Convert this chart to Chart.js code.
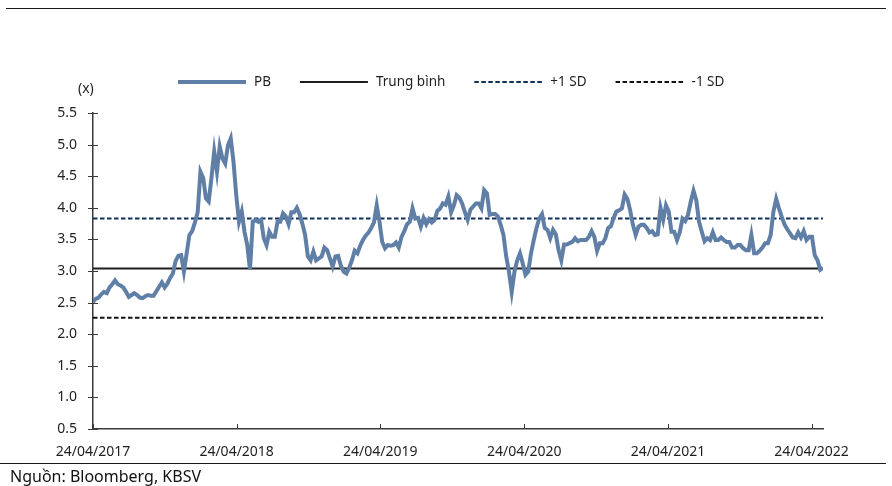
<!DOCTYPE html>
<html>
<head>
<meta charset="utf-8">
<script src="https://cdn.jsdelivr.net/npm/chart.js@4.4.0/dist/chart.umd.min.js"></script>
<style>
  html, body { margin: 0; padding: 0; background: #fff; }
  body { width: 892px; height: 486px; position: relative; overflow: hidden; font-family: "Noto Sans", sans-serif; }
  #wrap { position: absolute; left: 0; top: 0; width: 892px; height: 486px; }
  .rule { position: absolute; height: 0; border-top: 1.5px solid #1a1a1a; }
  #src { position: absolute; left: 10px; top: 467px; font-size: 16px; line-height: 19px; color: #111; }
</style>
</head>
<body>
<div id="wrap"><canvas id="pbChart" width="892" height="486"></canvas></div>
<div class="rule" style="left:6px;width:880px;top:8px"></div>
<div class="rule" style="left:0;width:886px;top:463px"></div>
<div id="src">Nguồn: Bloomberg, KBSV</div>

<script>
// P/B weekly from 24/04/2017
const pbStep = 7; // days between points
const pbValues = [
  2.51, 2.56, 2.58, 2.63, 2.67, 2.65, 2.74, 2.79, 2.85, 2.79,
  2.77, 2.74, 2.67, 2.59, 2.62, 2.65, 2.62, 2.58, 2.57, 2.60,
  2.62, 2.61, 2.61, 2.68, 2.75, 2.82, 2.74, 2.80, 2.89, 2.96,
  3.16, 3.24, 3.25, 2.99, 3.28, 3.57, 3.63, 3.77, 3.93, 4.57,
  4.47, 4.15, 4.10, 4.47, 4.89, 4.57, 4.97, 4.78, 4.70, 4.99,
  5.10, 4.73, 4.20, 3.78, 3.94, 3.62, 3.41, 3.02, 3.78, 3.81,
  3.78, 3.81, 3.52, 3.41, 3.62, 3.54,
  3.54, 3.78, 3.78, 3.91, 3.86, 3.74, 3.93, 3.93, 4.00, 3.90,
  3.75, 3.57, 3.23, 3.17, 3.31, 3.17, 3.20, 3.23, 3.37, 3.33,
  3.20, 3.07, 3.23, 3.24, 3.08, 2.99, 2.96, 3.05, 3.17, 3.32,
  3.28, 3.40, 3.49, 3.56, 3.61, 3.68, 3.77, 4.04, 3.78, 3.46,
  3.36, 3.41, 3.40, 3.41, 3.45, 3.37, 3.54, 3.63, 3.74, 3.78,
  3.99, 3.83, 3.84, 3.70, 3.84, 3.74, 3.82, 3.77, 3.81, 3.95,
  3.99, 4.07, 4.05, 4.18, 3.93, 4.04, 4.20,
  4.16, 4.07, 3.93, 3.81, 3.97, 4.02, 4.07, 4.07, 3.99, 4.28,
  4.23, 3.89, 3.90, 3.90, 3.86, 3.73, 3.57, 3.23, 2.99, 2.67,
  2.99, 3.17, 3.28, 3.12, 2.94, 2.99, 3.28, 3.49, 3.68, 3.83,
  3.90, 3.68, 3.65, 3.52, 3.65, 3.58, 3.33, 3.17, 3.42, 3.42,
  3.44, 3.46, 3.52, 3.47, 3.49, 3.49, 3.49, 3.54, 3.63, 3.54,
  3.32, 3.44, 3.44, 3.52, 3.68, 3.71, 3.84, 3.94, 3.96, 3.99,
  4.21, 4.14, 3.96, 3.73, 3.57, 3.70, 3.73,
  3.73, 3.68, 3.61, 3.63, 3.57, 3.58, 4.00, 3.81, 4.04, 3.94,
  3.62, 3.62, 3.49, 3.61, 3.83, 3.79, 3.89, 4.10, 4.27, 4.12,
  3.78, 3.62, 3.47, 3.52, 3.49, 3.61, 3.49, 3.49, 3.53, 3.49,
  3.46, 3.46, 3.37, 3.37, 3.41, 3.41, 3.36, 3.33, 3.33, 3.57,
  3.28, 3.28, 3.32, 3.37, 3.44, 3.44, 3.57, 3.94, 4.14, 3.99,
  3.86, 3.74, 3.66, 3.60, 3.53, 3.52, 3.61, 3.53, 3.63, 3.49,
  3.54, 3.54, 3.25, 3.17, 3.02, 3.05
];
const pbMean = 3.04;
const pbPlusSD = 3.83;
const pbMinusSD = 2.26;

// day offsets of the 24/04 ticks and their labels
const xTickDays = [0, 365, 730, 1096, 1461, 1826];
const xTickLabels = ['24/04/2017', '24/04/2018', '24/04/2019', '24/04/2020', '24/04/2021', '24/04/2022'];
const yTicks = [0.5, 1.0, 1.5, 2.0, 2.5, 3.0, 3.5, 4.0, 4.5, 5.0, 5.5];

const FONT = '"Noto Sans", sans-serif';
const TEXT = '#1f1f1f';
const AXIS = '#3a3a3a';

const lastDay = (pbValues.length - 1) * pbStep;
const flat = v => [{ x: 0, y: v }, { x: lastDay, y: v }];

// inward/cross tick marks, legend and unit label
const decor = {
  id: 'decor',
  afterDraw(chart) {
    const { ctx, chartArea: a, scales: { x, y } } = chart;
    ctx.save();
    ctx.strokeStyle = AXIS;
    ctx.lineWidth = 1;
    ctx.beginPath();
    y.ticks.forEach(t => {
      const py = Math.round(y.getPixelForValue(t.value)) + 0.5;
      ctx.moveTo(a.left - 5, py); ctx.lineTo(a.left + 5, py);
    });
    x.ticks.forEach(t => {
      const px = Math.round(x.getPixelForValue(t.value)) + 0.5;
      ctx.moveTo(px, a.bottom); ctx.lineTo(px, a.bottom - 5);
    });
    ctx.stroke();

    // legend
    ctx.font = '13.5px ' + FONT;
    ctx.textBaseline = 'middle';
    ctx.fillStyle = TEXT;
    let lx = 178;
    const ly = 82;
    chart.data.datasets.forEach(ds => {
      ctx.beginPath();
      ctx.strokeStyle = ds.borderColor;
      ctx.lineWidth = ds.borderWidth;
      ctx.setLineDash(ds.borderDash || []);
      ctx.moveTo(lx, ly); ctx.lineTo(lx + 68, ly);
      ctx.stroke();
      ctx.setLineDash([]);
      const tx = lx + 76;
      ctx.fillText(ds.label, tx, ly);
      lx = tx + ctx.measureText(ds.label).width + 29;
    });

    ctx.font = '14px ' + FONT;
    ctx.fillText('(x)', 78, 89);
    ctx.restore();
  }
};

new Chart(document.getElementById('pbChart'), {
  type: 'line',
  data: {
    datasets: [
      {
        label: 'PB',
        data: pbValues.map((v, i) => ({ x: i * pbStep, y: v })),
        borderColor: '#5f7fa7',
        borderWidth: 4,
        pointRadius: 0,
        tension: 0,
        order: 0
      },
      {
        label: 'Trung bình',
        data: flat(pbMean),
        borderColor: '#1e1e1e',
        borderWidth: 2,
        pointRadius: 0,
        order: 1
      },
      {
        label: '+1 SD',
        data: flat(pbPlusSD),
        borderColor: '#0f2f5c',
        borderWidth: 2,
        borderDash: [4.5, 2.5],
        pointRadius: 0,
        order: 2
      },
      {
        label: '-1 SD',
        data: flat(pbMinusSD),
        borderColor: '#111111',
        borderWidth: 2,
        borderDash: [4.5, 2.5],
        pointRadius: 0,
        order: 3
      }
    ]
  },
  options: {
    responsive: false,
    animation: false,
    layout: { padding: { left: 0, right: 69, top: 113, bottom: 0 } },
    plugins: { legend: { display: false }, tooltip: { enabled: false } },
    scales: {
      x: {
        type: 'linear',
        min: 0,
        max: lastDay,
        afterBuildTicks: s => { s.ticks = xTickDays.map(v => ({ value: v })); },
        afterFit: s => { s.height = 57; },
        grid: { display: false, drawTicks: false, tickLength: 0 },
        border: { display: true, color: AXIS, width: 1.5 },
        ticks: {
          padding: 15,
          maxRotation: 0,
          autoSkip: false,
          color: TEXT,
          font: { family: FONT, size: 14 },
          callback: (v, i) => xTickLabels[i]
        }
      },
      y: {
        min: 0.5,
        max: 5.5,
        afterBuildTicks: s => { s.ticks = yTicks.map(v => ({ value: v })); },
        afterFit: s => { s.width = 93; },
        grid: { display: false, drawTicks: false, tickLength: 0 },
        border: { display: true, color: AXIS, width: 1.5 },
        ticks: {
          padding: 16,
          color: TEXT,
          font: { family: FONT, size: 14 },
          callback: v => v.toFixed(1)
        }
      }
    }
  },
  plugins: [decor]
});
</script>
</body>
</html>
